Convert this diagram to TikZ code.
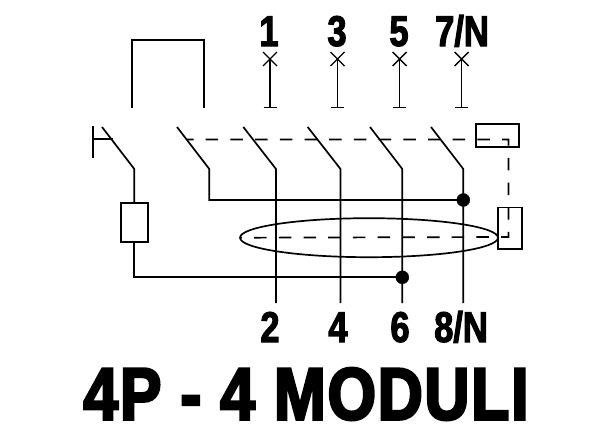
\documentclass[tikz,border=0pt]{standalone}
\usepackage{fontspec}
\usepackage{tikz}
\usetikzlibrary{shapes, calc}
\newfontfamily\polefont[FakeStretch=0.8,FakeBold=2.5]{Liberation Sans}
\newfontfamily\titlefont[FakeStretch=0.84,FakeBold=3.5,LetterSpace=2.5]{Liberation Sans}

\tikzset{
	wire/.style={line width=1.7pt},
	termwire/.style={line width=1.4pt},
	mechlink/.style={line width=1.7pt, dash pattern=on 12.5pt off 12.2pt, dash phase=5pt},
	box/.style={draw, rectangle, line width=1.7pt, inner sep=0pt, outer sep=0pt},
	crossmark/.style={draw, cross out, line width=1.4pt, minimum size=14pt, inner sep=0pt, outer sep=0pt},
	joint/.style={draw, circle, fill=black, minimum size=13pt, inner sep=0pt, outer sep=0pt},
	polelabel/.style={anchor=base, inner sep=0pt, font=\polefont\bfseries\fontsize{43}{46}\selectfont},
	titlelabel/.style={anchor=base, inner sep=0pt, font=\titlefont\bfseries\fontsize{74}{80}\selectfont}
}

\begin{document}
\begin{tikzpicture}[x=1pt, y=-1pt]
		\useasboundingbox (0,0) rectangle (615,439);

		\node[polelabel] (Label1) at (269,46) {1};
		\node[polelabel] (Label3) at (337,46) {3};
		\node[polelabel] (Label5) at (399,46) {5};
		\node[polelabel] (Label7) at (462,46) {7/N};
		\node[polelabel] (Label2) at (270,342) {2};
		\node[polelabel] (Label4) at (338,342) {4};
		\node[polelabel] (Label6) at (400,342) {6};
		\node[polelabel] (Label8) at (461,342) {8/N};
		\node[titlelabel] (Title) at (306,419.5) {4P - 4 MODULI};

		\node[crossmark] (Cross1) at (270,59) {};
		\node[crossmark] (Cross3) at (337.5,59) {};
		\node[crossmark] (Cross5) at (399.7,59) {};
		\node[crossmark] (Cross7) at (461.7,59) {};
		\coordinate (Foot1) at (270,107.5);
		\coordinate (Foot3) at (337.5,107.5);
		\coordinate (Foot5) at (399.7,107.5);
		\coordinate (Foot7) at (461.7,107.5);
		\draw[termwire] (Cross1.center) to (Foot1);
		\draw[termwire] (Cross3.center) to (Foot3);
		\draw[termwire] (Cross5.center) to (Foot5);
		\draw[termwire] (Cross7.center) to (Foot7);
		\draw[termwire] ([xshift=-6.5pt]Foot1) to ([xshift=6.5pt]Foot1);
		\draw[termwire] ([xshift=-6.5pt]Foot3) to ([xshift=6.5pt]Foot3);
		\draw[termwire] ([xshift=-6.5pt]Foot5) to ([xshift=6.5pt]Foot5);
		\draw[termwire] ([xshift=-6.5pt]Foot7) to ([xshift=6.5pt]Foot7);

		% test link
		\coordinate (LinkA) at (131.7,107.7);
		\coordinate (LinkB) at (203.7,107.7);
		\draw[wire] (LinkA) to (LinkA |- 0,40) to (LinkB |- 0,40) to (LinkB);

		% test button and coil
		\coordinate (BarTop) at (93,126);
		\coordinate (BarBottom) at (93,158);
		\coordinate (BarMid) at (93,139);
		\coordinate (BarEnd) at (113,139);
		\coordinate (TestA) at (102,127);
		\coordinate (TestB) at (134.3,169);
		\node[box, minimum width=26.7pt, minimum height=39pt] (Coil) at (134.3,222.5) {};
		\node[joint] (Dot6) at (402.3,277.3) {};
		\draw[wire] (BarTop) to (BarBottom);
		\draw[wire] (BarMid) to (BarEnd);
		\draw[wire] (TestA) to (TestB) to (Coil.north);
		\draw[wire] (Coil.south) to (Coil.south |- Dot6) to (Dot6);

		% poles
		\coordinate (SwitchA) at (177,127);
		\coordinate (SwitchB) at (209.3,169);
		\node[joint] (Dot8) at (463.3,200) {};
		\draw[wire] (SwitchA) to (SwitchB) to (SwitchB |- Dot8) to (Dot8);

		\coordinate (Pole2A) at (243.3,127);
		\coordinate (Pole2B) at (276,169);
		\coordinate (Pole2C) at (276,303);
		\draw[wire] (Pole2A) to (Pole2B) to (Pole2C);

		\coordinate (Pole4A) at (307.7,127);
		\coordinate (Pole4B) at (340.5,169);
		\coordinate (Pole4C) at (340.5,303);
		\draw[wire] (Pole4A) to (Pole4B) to (Pole4C);

		\coordinate (Pole6A) at (370,127);
		\coordinate (Pole6B) at (402.3,169);
		\coordinate (Pole6C) at (402.3,303);
		\draw[wire] (Pole6A) to (Pole6B) to (Pole6C);

		\coordinate (Pole8A) at (431,127);
		\coordinate (Pole8B) at (463.3,169);
		\coordinate (Pole8C) at (463.3,303);
		\draw[wire] (Pole8A) to (Pole8B) to (Pole8C);

		% differential part
		\node[box, minimum width=42.4pt, minimum height=23pt] (Trip) at (497.5,135.5) {};
		\node[box, minimum width=23.7pt, minimum height=41.7pt] (Sensor) at (509.8,228.2) {};
		\node[draw, ellipse, line width=1.7pt, minimum width=258pt, minimum height=39pt, inner sep=0pt, outer sep=0pt] (Toroid) at (369,237.7) {};
		\coordinate (MechStart) at (186,139.5);
		\coordinate (MechTurn) at (508.5,139.5);
		\coordinate (MechCorner) at (508.5,237);
		\draw[mechlink] (MechStart) to (MechTurn) to (MechCorner) to (Toroid.west);
	\end{tikzpicture}
\end{document}
